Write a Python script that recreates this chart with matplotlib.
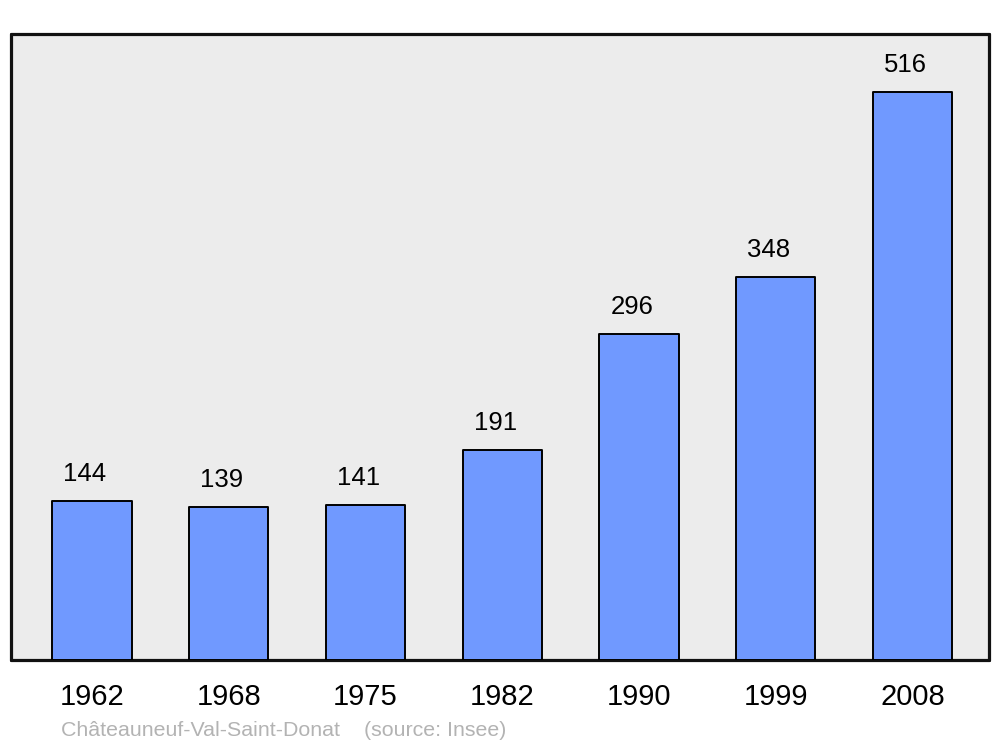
import matplotlib
matplotlib.use("Agg")
import matplotlib.pyplot as plt

years = ["1962", "1968", "1975", "1982", "1990", "1999", "2008"]
population = [144, 139, 141, 191, 296, 348, 516]
footer = "Châteauneuf-Val-Saint-Donat    (source: Insee)"

plt.rcParams['font.family'] = ['Liberation Sans', 'DejaVu Sans']

fig = plt.figure(figsize=(10, 7.47), dpi=100)
W, H = 1000, 747
left, right, top, bottom = 11, 989, 34, 660
ax = fig.add_axes([left / W, 1 - bottom / H, (right - left) / W, (bottom - top) / H])
ax.set_facecolor('#ececec')

x = list(range(len(years)))
ax.bar(x, population, width=0.58, color='#7099ff', edgecolor='black',
       linewidth=1.4, zorder=3, joinstyle='round')
for xi, v in zip(x, population):
    ax.annotate(str(v), (xi, v), xytext=(-7, 27), textcoords='offset pixels',
                ha='center', va='center', fontsize=18.5, color='black')

ax.set_xlim(-0.592, 6.559)
ax.set_ylim(0, 568.7)
ax.set_yticks([])
ax.set_xticks(x)
ax.set_xticklabels(years, fontsize=21)
for lbl in ax.get_xticklabels():
    lbl.set_x(lbl.get_position()[0])
ax.tick_params(axis='x', length=0, pad=16.5)
for s in ax.spines.values():
    s.set_linewidth(2.3)
    s.set_color('#111111')
    s.set_capstyle('round')
    s.set_joinstyle('round')

fig.text(61 / W, 1 - 730 / H, footer, fontsize=15.4, color='#b3b3b3',
         ha='left', va='center')

fig.savefig('out.png', dpi=100)
